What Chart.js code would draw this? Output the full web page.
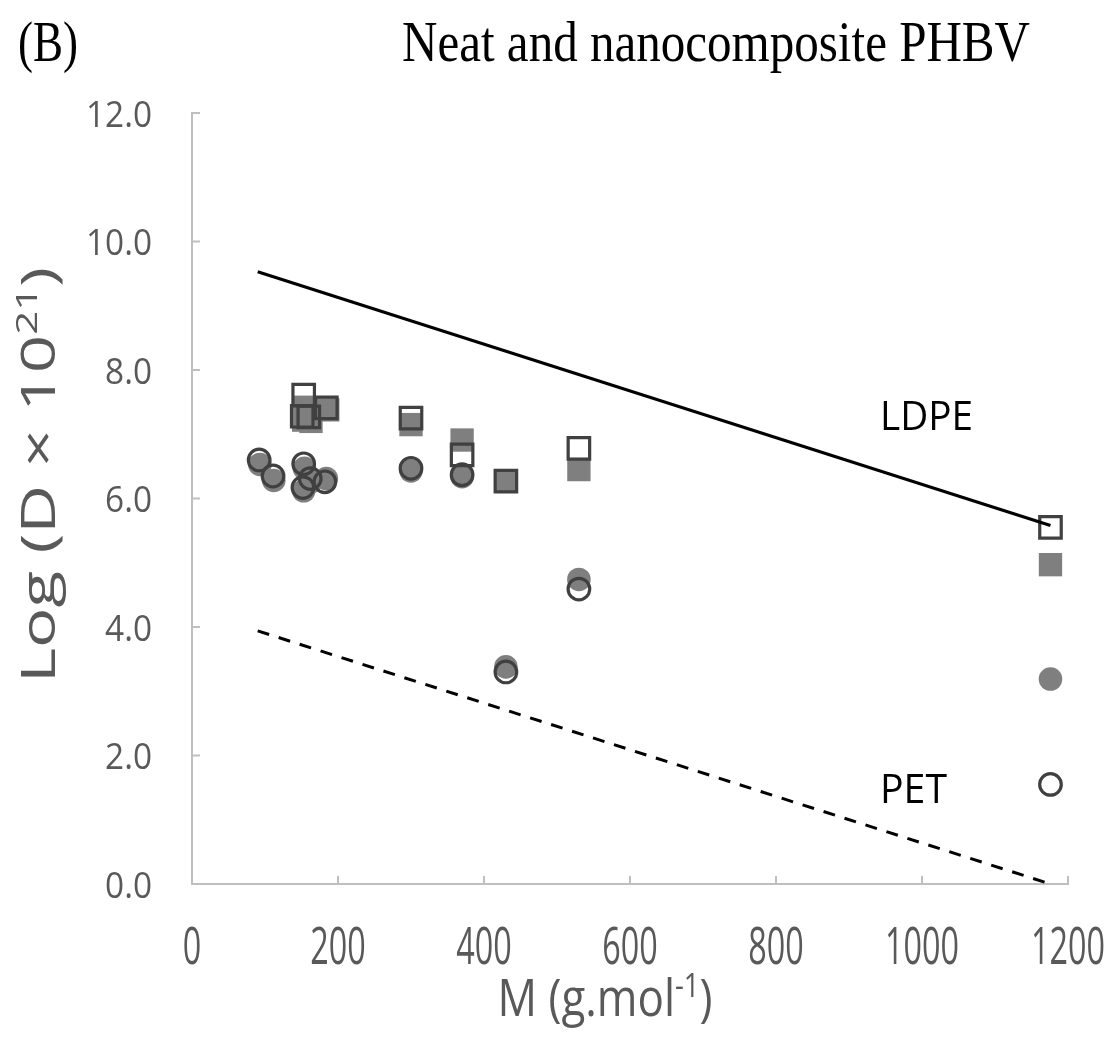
<!DOCTYPE html>
<html><head><meta charset="utf-8">
<script src="https://cdn.jsdelivr.net/npm/chart.js@4.4.0/dist/chart.umd.min.js"></script>
<style>html,body{margin:0;padding:0;background:#fff;overflow:hidden}</style>
</head><body>
<canvas id="c" width="1115" height="1042"></canvas>
<script>
// ---- data ----
const xTickLabels = ['0','200','400','600','800','1000','1200'];
const yTickLabels = ['0.0','2.0','4.0','6.0','8.0','10.0','12.0'];

const sqOpenM    = [153, 151, 160, 184, 300, 370, 430, 530, 1176];
const sqOpenLogD = [7.61, 7.28, 7.27, 7.41, 7.25, 6.68, 6.27, 6.78, 5.55];
const sqFillM    = [153, 153, 163, 186, 300, 370, 430, 530, 1176];
const sqFillLogD = [7.42, 7.22, 7.20, 7.38, 7.15, 6.91, 6.27, 6.45, 4.97];
const ciOpenM    = [92, 111, 153, 152, 162, 182, 300, 370, 430, 530, 1176];
const ciOpenLogD = [6.60, 6.35, 6.54, 6.17, 6.31, 6.26, 6.47, 6.37, 3.30, 4.59, 1.55];
const ciFillM    = [93, 112, 154, 153, 163, 184, 300, 370, 430, 530, 1176];
const ciFillLogD = [6.53, 6.28, 6.47, 6.12, 6.26, 6.31, 6.43, 6.34, 3.38, 4.74, 3.19];
const ldpeM      = [90, 1176];
const ldpeLogD   = [9.53, 5.58];
const petM       = [90, 1176];
const petLogD    = [3.94, 0.0];

const zip = (xs, ys) => xs.map((x, i) => ({x, y: ys[i]}));

const GRAY_TXT = '#595959';
const AXIS = '#bfbfbf';

function drawParts(ctx, parts, opt) {
  const base = opt.size;
  const fam = opt.family;
  ctx.save();
  let nat = 0;
  const widths = parts.map(p => {
    ctx.font = (p.sup ? Math.round(base * 0.62) : base) + 'px ' + fam;
    const w = ctx.measureText(p.t).width;
    nat += w; return w;
  });
  ctx.font = base + 'px ' + fam;
  const capNat = ctx.measureText(opt.capChar || 'H').actualBoundingBoxAscent || base * 0.7;
  const sx = opt.sx || (opt.width / nat);
  const sy = opt.sy || (opt.cap / capNat);
  ctx.translate(opt.x, opt.y);
  if (opt.rotate) ctx.rotate(-Math.PI / 2);
  ctx.scale(sx, sy);
  ctx.fillStyle = opt.color;
  ctx.textBaseline = 'alphabetic';
  ctx.textAlign = 'left';
  let cx = opt.align === 'center' ? -nat / 2 : (opt.align === 'right' ? -nat : 0);
  parts.forEach((p, i) => {
    ctx.font = (p.sup ? Math.round(base * 0.62) : base) + 'px ' + fam;
    ctx.fillText(p.t, cx, p.sup ? -base * 0.38 : 0);
    cx += widths[i];
  });
  ctx.restore();
}

function fitScale(ctx, family, size, sample, w, h) {
  ctx.save();
  ctx.font = size + 'px ' + family;
  const m = ctx.measureText(sample);
  const natH = ctx.measureText('0').actualBoundingBoxAscent || size * 0.7;
  ctx.restore();
  return {sx: w / m.width, sy: h / natH};
}

const decor = {
  id: 'decor',
  afterDraw(chart) {
    const ctx = chart.ctx;
    const xs = chart.scales.x, ys = chart.scales.y;
    // inward tick marks
    ctx.save();
    ctx.strokeStyle = AXIS; ctx.lineWidth = 2;
    ys.ticks.forEach(t => {
      const py = ys.getPixelForValue(t.value);
      ctx.beginPath(); ctx.moveTo(xs.left, py); ctx.lineTo(xs.left + 8, py); ctx.stroke();
    });
    xs.ticks.forEach(t => {
      const px = xs.getPixelForValue(t.value);
      ctx.beginPath(); ctx.moveTo(px, ys.bottom); ctx.lineTo(px, ys.bottom - 8); ctx.stroke();
    });
    ctx.restore();

    const sans = '"Open Sans", "DejaVu Sans", sans-serif';
    const serif = '"Liberation Serif", "DejaVu Serif", serif';
    // x tick labels
    const fx = fitScale(ctx, sans, 32, '1200', 74, 38);
    xs.ticks.forEach((t, i) => {
      const px = xs.getPixelForValue(t.value);
      drawParts(ctx, [{t: xTickLabels[i]}], {family: sans, size: 32, x: px, y: 964,
        sx: fx.sx, sy: fx.sy, align: 'center', color: GRAY_TXT});
    });
    // y tick labels
    const fy = fitScale(ctx, sans, 32, '12.0', 66, 27);
    ys.ticks.forEach((t, i) => {
      const py = ys.getPixelForValue(t.value);
      drawParts(ctx, [{t: yTickLabels[i]}], {family: sans, size: 32, x: 152, y: py + 13.5,
        sx: fy.sx, sy: fy.sy, align: 'right', color: GRAY_TXT});
    });
    // axis titles
    drawParts(ctx, [{t: 'M (g.mol'}, {t: '-1', sup: true}, {t: ')'}],
      {family: sans, size: 40, x: 605, y: 1016, width: 215, cap: 37, align: 'center', color: GRAY_TXT});
    drawParts(ctx, [{t: 'Log (D × 10'}, {t: '21', sup: true}, {t: ')'}],
      {family: sans, size: 40, x: 55, y: 475, width: 416, cap: 34, align: 'center', rotate: true, color: GRAY_TXT});
    // titles
    drawParts(ctx, [{t: '(B)'}], {family: serif, size: 50, x: 18, y: 61, width: 60, cap: 38, color: '#000'});
    drawParts(ctx, [{t: 'Neat and nanocomposite PHBV'}], {family: serif, size: 50, x: 402, y: 61, width: 628, cap: 38, color: '#000'});
    // line labels
    drawParts(ctx, [{t: 'LDPE'}], {family: sans, size: 34, x: 880, y: 430, width: 93, cap: 30, color: '#000'});
    drawParts(ctx, [{t: 'PET'}], {family: sans, size: 34, x: 880, y: 803, width: 67, cap: 30, color: '#000'});
  }
};

new Chart(document.getElementById('c'), {
  type: 'scatter',
  data: {
    datasets: [
      {label: 'LDPE', data: zip(ldpeM, ldpeLogD), showLine: true, borderColor: '#000', borderWidth: 3,
        pointRadius: 0, order: 0},
      {label: 'PET', data: zip(petM, petLogD), showLine: true, borderColor: '#000', borderWidth: 3,
        borderDash: [12, 10], pointRadius: 0, order: 0},
      {label: 'Neat squares', data: zip(sqOpenM, sqOpenLogD), pointStyle: 'rect', pointRadius: 15.2,
        backgroundColor: 'rgba(0,0,0,0)', borderColor: '#404040', borderWidth: 3.2, order: 1},
      {label: 'Neat circles', data: zip(ciOpenM, ciOpenLogD), pointStyle: 'circle', pointRadius: 10.8,
        backgroundColor: 'rgba(0,0,0,0)', borderColor: '#404040', borderWidth: 3.2, order: 1},
      {label: 'Nano squares', data: zip(sqFillM, sqFillLogD), pointStyle: 'rect', pointRadius: 16.5,
        backgroundColor: '#7f7f7f', borderColor: '#7f7f7f', borderWidth: 0, order: 2},
      {label: 'Nano circles', data: zip(ciFillM, ciFillLogD), pointStyle: 'circle', pointRadius: 11.8,
        backgroundColor: '#7f7f7f', borderColor: '#7f7f7f', borderWidth: 0, order: 2}
    ]
  },
  options: {
    responsive: false,
    animation: false,
    devicePixelRatio: 1,
    layout: {autoPadding: false, padding: {left: 0, top: 113, right: 47, bottom: 0}},
    plugins: {legend: {display: false}, tooltip: {enabled: false}, title: {display: false}},
    scales: {
      x: {
        type: 'linear', min: 0, max: 1200,
        ticks: {stepSize: 200, display: false},
        grid: {display: false},
        border: {display: true, color: AXIS, width: 2},
        afterFit: s => { s.height = 158; }
      },
      y: {
        type: 'linear', min: 0, max: 12,
        ticks: {stepSize: 2, display: false},
        grid: {display: false},
        border: {display: true, color: AXIS, width: 2},
        afterFit: s => { s.width = 192; }
      }
    }
  },
  plugins: [decor]
});
</script>
</body></html>
